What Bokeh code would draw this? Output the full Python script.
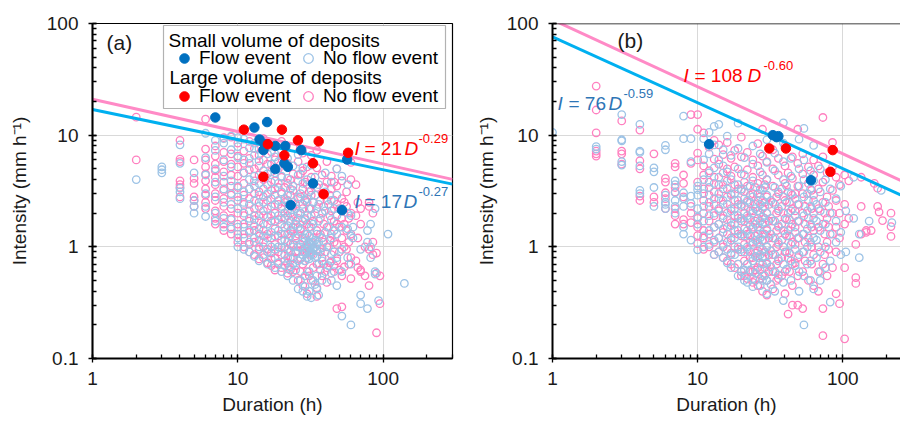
import numpy as np
from bokeh.plotting import figure
from bokeh.layouts import row
from bokeh.models import (Legend, LegendItem, Label, BoxAnnotation, Span,
                          NumeralTickFormatter, LogTicker)
from bokeh.embed import file_html
from bokeh.resources import INLINE

FONT = "Liberation Sans"

# ---------------- data: panel (a) ----------------
# columns: (duration h, [intensities mm/h])
a_small_noflow = [
    (2, [4.0]), (3, [5.2, 4.9, 4.6]), (4, [8.2, 5.6, 3.35, 3.1, 2.7]),
    (5, [4.6, 2.6, 2.3, 2.0]), (6, [10.4, 6.3, 4.4, 3.0, 2.3, 1.87]),
    (7, [9.0, 7.3, 5.0, 3.8, 2.8, 2.0, 1.7]), (8, [9.3, 8.5, 6.0, 4.3, 3.3, 2.5, 1.8, 1.5]),
    (9, [9.8, 7.4, 5.2, 3.9, 3.0, 2.4, 1.75, 1.45]), (10, [9.5, 7.9, 6.3, 3.5, 2.8, 2.2, 1.5, 1.2, 1.0]),
    (11, [9.2, 6.0, 4.6, 3.1, 2.5, 2.0, 1.6, 1.3, 0.95]), (12, [7.7, 5.6, 4.0, 3.3, 2.4, 1.8, 1.4, 1.1, 0.9]),
    (13, [8.5, 6.6, 4.3, 3.5, 2.6, 1.9, 1.55, 1.2, 0.82]), (14, [7.5, 5.9, 3.7, 2.9, 2.3, 1.7, 1.3, 1.0, 0.75]),
    (15, [8.6, 4.8, 3.3, 2.5, 1.9, 1.4, 1.1, 0.85]), (16, [6.8, 4.5, 3.0, 2.2, 1.6, 1.2, 0.9, 0.7]),
    (17, [8.0, 5.5, 3.8, 2.7, 1.9, 1.35, 1.0, 0.78]), (18, [6.4, 4.6, 3.3, 2.4, 1.7, 1.25, 0.95, 0.65]),
    (19, [5.8, 3.7, 2.6, 1.9, 1.4, 1.0, 0.72]), (20, [7.2, 4.3, 3.1, 2.3, 1.8, 1.3, 0.98, 0.6]),
    (21, [2.7, 2.0, 1.5, 1.15, 0.85, 0.68]), (22, [6.2, 4.1, 2.9, 2.1, 1.55, 1.1, 0.8, 0.55]),
    (23, [3.3, 2.4, 1.7, 1.25, 0.9, 0.66]), (24, [5.3, 3.5, 2.5, 1.85, 1.35, 1.0, 0.7, 0.5]),
    (25, [2.2, 1.6, 1.2, 0.88, 0.62]), (26, [6.7, 4.4, 2.8, 2.0, 1.5, 1.0, 0.75, 0.42]),
    (27, [3.0, 2.0, 1.4, 1.0, 0.78, 0.5]), (28, [5.1, 3.7, 2.4, 1.7, 1.1, 0.85, 0.4]),
    (29, [2.6, 1.8, 1.2, 0.9, 0.75, 0.55, 0.44]), (30, [4.0, 2.7, 1.9, 1.3, 1.05, 0.95, 0.8, 0.36]),
    (31, [1.25, 1.1, 1.0, 0.88, 0.78, 0.6, 0.4]), (32, [5.4, 3.2, 2.2, 1.5, 1.05, 0.9, 0.35]),
    (33, [2.5, 1.6, 1.1, 0.95, 0.85, 0.5]), (34, [4.2, 2.9, 2.0, 1.15, 1.0, 0.8, 0.46]),
    (35, [1.3, 1.05, 0.92, 0.82, 0.55, 0.42]), (36, [3.6, 2.4, 1.7, 1.1, 0.7, 0.37]),
    (38, [2.0, 1.2, 0.98, 0.75, 0.5]), (40, [4.6, 3.1, 2.1, 1.35, 0.9, 0.6]),
    (42, [2.4, 1.5, 1.0, 0.68]), (44, [3.8, 2.6, 1.75, 1.2, 0.75, 0.5]),
    (46, [2.2, 1.4, 0.9, 0.6]), (48, [5.0, 2.9, 1.9, 1.3, 0.8, 0.45]),
    (52, [4.3, 2.2, 1.5, 0.95, 0.6, 0.24]), (57, [3.6, 2.0, 1.45, 0.8]),
    (60, [1.9, 1.25, 0.7, 0.2]), (62, [1.5, 1.2]), (70, [0.95, 0.37, 0.31]),
    (78, [1.4, 1.1, 0.28]), (82, [1.6, 1.0, 0.8]), (88, [2.2, 0.6, 0.57]), (93, [0.33]),
    (108, [1.3]), (140, [0.47]),
]
a_large_noflow = [
    (2, [14.5, 6.0]), (4, [9.0, 6.1, 5.8, 3.9, 3.6, 3.4, 2.8]), (5, [6.0, 4.1, 3.7, 2.8, 2.6, 2.3]),
    (6, [13.9, 7.5, 6.0, 5.2, 4.5, 3.9, 3.3, 2.9, 2.5, 2.2]),
    (7, [8.0, 6.5, 5.5, 4.8, 4.2, 3.6, 3.0, 2.6, 2.1, 1.8, 1.6]),
    (8, [9.5, 7.0, 5.8, 4.7, 3.8, 3.2, 2.7, 2.3, 1.9, 1.6, 1.4]),
    (9, [9.6, 6.8, 5.5, 4.4, 3.5, 2.9, 2.2, 1.8, 1.5, 1.3]),
    (10, [8.5, 6.5, 5.2, 4.3, 3.4, 2.6, 2.0, 1.6, 1.3, 1.1]),
    (11, [7.2, 5.6, 4.6, 3.7, 2.9, 2.4, 1.9, 1.5, 1.2, 1.0]),
    (12, [8.8, 6.2, 4.9, 3.3, 2.7, 2.1, 1.7, 1.35, 1.05, 0.9]),
    (13, [7.6, 5.0, 3.9, 3.0, 2.2, 1.75, 1.4, 1.1, 0.85]),
    (14, [6.6, 5.3, 4.4, 3.1, 2.5, 1.9, 1.45, 1.15, 0.95, 0.78]),
    (15, [9.3, 6.0, 4.0, 2.8, 2.1, 1.6, 1.25, 1.0, 0.8]),
    (16, [5.5, 3.6, 2.6, 1.85, 1.3, 0.95, 0.72]), (17, [7.1, 4.7, 3.2, 2.3, 1.7, 1.2, 0.88, 0.68]),
    (18, [6.0, 3.9, 2.9, 2.0, 1.45, 1.05, 0.8, 0.62]), (19, [5.0, 3.4, 2.4, 1.75, 1.25, 0.9, 0.7]),
    (20, [8.8, 6.5, 4.2, 3.0, 2.2, 1.6, 1.15, 0.85, 0.65]), (21, [3.4, 2.5, 1.8, 1.3, 1.0, 0.75]),
    (22, [5.6, 3.7, 2.6, 1.9, 1.3, 0.95, 0.72, 0.58]), (23, [4.0, 2.9, 2.0, 1.4, 1.05, 0.8, 0.62]),
    (24, [7.8, 4.5, 3.2, 2.3, 1.5, 1.05, 0.8, 0.6]), (25, [2.4, 1.7, 1.25, 0.9, 0.68]),
    (26, [5.8, 3.9, 2.7, 1.8, 1.3, 0.92, 0.5]), (27, [4.5, 2.8, 2.0, 1.45, 1.05, 0.8, 0.6]),
    (28, [6.9, 4.8, 3.3, 2.2, 1.2, 0.95, 0.7, 0.45]), (29, [3.8, 2.6, 1.75, 1.3, 0.98, 0.75]),
    (30, [5.2, 3.6, 2.5, 1.6, 1.0, 0.9, 0.6, 0.38]), (31, [3.1, 2.2, 1.5, 1.1, 0.92, 0.55]),
    (32, [6.6, 4.2, 2.9, 1.9, 1.1, 0.85, 0.5]), (33, [3.7, 2.5, 1.7, 1.2, 0.97, 0.65]),
    (35, [7.3, 5.1, 3.4, 2.2, 1.4, 0.95, 0.7, 0.43, 0.36]), (37, [2.6, 1.8, 1.3, 0.9, 0.62]),
    (38, [4.4, 3.0, 2.0, 1.2, 0.8, 0.55]), (39, [3.4, 2.3, 1.6, 1.1, 0.7]),
    (41, [5.8, 3.8, 2.6, 1.5, 1.0, 0.65, 0.48]), (43, [2.9, 1.9, 1.15, 0.72]),
    (44, [4.3, 3.3, 2.1, 1.3, 0.85, 0.58]), (46, [3.8, 2.6, 1.7, 1.1, 0.68]),
    (48, [5.0, 3.5, 2.4, 1.6, 1.05, 0.75, 0.28]), (50, [2.2, 1.5, 0.9, 0.62]),
    (52, [3.9, 2.7, 1.8, 1.2, 0.55, 0.29]), (54, [2.5, 1.6, 1.0, 0.66]), (56, [3.1, 2.3, 1.4, 0.95]),
    (58, [1.8, 1.1, 0.7]), (60, [5.7, 4.0, 2.0, 1.3, 0.8, 0.52]), (65, [3.6, 1.9, 0.75]),
    (67, [2.5, 1.2, 0.65]), (70, [2.2, 1.6, 0.62, 0.6]), (75, [1.0, 0.55]), (80, [2.5, 2.3, 0.95, 0.45]),
    (85, [2.0, 1.1, 0.85]), (90, [0.88, 0.58, 0.17]), (95, [0.55, 0.31]),
]
a_small_flow_d = [7.0, 13.0, 15.9, 14.1, 15.3, 15.0, 18.1, 21.2, 27.3, 20.9, 22.1, 18.1, 32.9, 56.5, 23.1, 52.1]
a_small_flow_i = [14.4, 11.7, 13.1, 9.15, 8.3, 7.35, 8.0, 8.0, 7.35, 5.6, 5.2, 4.97, 3.7, 6.05, 2.36, 2.13]
a_large_flow_d = [11.0, 20.1, 16.1, 25.9, 36.0, 20.9, 32.9, 15.0, 38.9, 57.4]
a_large_flow_i = [11.2, 11.2, 8.3, 9.0, 8.8, 6.6, 5.6, 4.24, 2.96, 6.95]
a_small_fit = (17, -0.27)
a_large_fit = (21, -0.29)

# ---------------- data: panel (b) ----------------
b_small_noflow = [
    (1, [10.6]), (2, [7.9, 7.5]), (3, [15.3, 9.1, 8.9, 5.8, 5.4]), (4, [12.5, 7.2, 7.0, 5.3, 3.2, 3.0]),
    (5, [5.1, 4.7, 3.4, 2.3]), (6, [8.1, 7.4, 2.9, 2.5, 2.4, 2.2]), (7, [3.9, 3.6, 3.05, 2.6, 2.3, 2.0]),
    (8, [14.8, 9.3, 3.05, 2.7, 2.3, 1.5, 1.3]), (9, [9.3, 5.8, 2.85, 2.45, 1.15]),
    (10, [3.5, 3.25, 2.9, 2.2, 1.85, 1.6, 0.94]), (11, [9.3, 6.0, 4.0, 3.0, 2.3, 1.7, 1.25, 1.0]),
    (12, [10.6, 6.8, 4.6, 3.4, 2.5, 1.9, 1.4, 1.05]), (13, [12.0, 8.2, 5.1, 3.7, 2.7, 2.0, 1.5, 1.15, 0.85]),
    (14, [12.5, 6.0, 4.2, 3.0, 2.2, 1.6, 1.2, 0.9]), (15, [7.4, 5.3, 3.6, 2.6, 1.9, 1.45, 1.05, 0.8]),
    (16, [9.8, 4.7, 3.3, 2.4, 1.75, 1.3, 0.95, 0.72]), (17, [6.6, 4.0, 2.9, 2.1, 1.55, 1.15, 0.85, 0.65]),
    (18, [3.0, 2.2, 1.6, 1.2, 0.85]),
    (19, [12.8, 7.6, 5.0, 3.6, 2.6, 1.9, 1.4, 1.0, 0.7, 0.55]),
    (20, [3.3, 2.4, 1.8, 1.3, 0.95, 0.6]),
    (21, [6.3, 4.4, 3.1, 2.3, 1.7, 1.25, 0.9, 0.62, 0.5]),
    (22, [2.6, 1.9, 1.4, 1.0, 0.7, 0.48]), (23, [3.5, 2.5, 1.75, 1.25, 0.9, 0.62]),
    (24, [8.0, 5.5, 3.9, 2.8, 2.0, 1.45, 1.05, 0.75, 0.52, 0.44]),
    (25, [2.2, 1.6, 1.15, 0.82, 0.58]), (26, [3.0, 2.1, 1.5, 1.1, 0.8]),
    (27, [6.8, 4.7, 3.3, 2.4, 1.7, 1.2, 0.85, 0.62, 0.45]),
    (28, [2.6, 1.85, 1.3, 0.95, 0.7, 0.5]), (29, [3.4, 2.3, 1.65, 1.15, 0.82, 0.55]),
    (30, [9.1, 5.7, 4.0, 2.9, 2.0, 1.45, 1.0, 0.72, 0.5, 0.38]),
    (32, [2.6, 1.8, 1.3, 0.92, 0.66, 0.46]),
    (34, [6.9, 4.8, 3.4, 2.4, 1.7, 1.2, 0.85, 0.6, 0.4]), (36, [3.1, 2.2, 1.55, 1.1, 0.78, 0.56]),
    (39, [12.9, 8.5, 5.8, 4.0, 2.8, 2.0, 1.4, 1.0, 0.7, 0.48, 0.33]),
    (41, [3.5, 2.5, 1.75, 1.25, 0.9, 0.63]),
    (44, [6.2, 4.3, 3.0, 2.1, 1.5, 1.05, 0.75, 0.5]), (47, [2.7, 1.9, 1.35, 0.95, 0.68]),
    (50, [9.2, 5.0, 3.5, 2.4, 1.7, 1.2, 0.85, 0.6, 0.4]),
    (54, [11.5, 6.0, 4.0, 2.8, 1.9, 1.3, 0.9, 0.55, 0.2]), (57, [3.0, 2.1, 1.45, 1.0, 0.7]),
    (60, [4.8, 3.3, 2.3, 1.6, 1.1, 0.75, 0.5]), (63, [8.1, 3.9, 2.6, 1.8, 1.2, 0.42]),
    (66, [2.4, 1.7, 1.15, 0.8]),
    (70, [5.0, 3.1, 2.1, 1.4, 0.9, 0.6, 0.5]), (76, [4.0, 2.5, 1.6, 1.0, 0.65]),
    (82, [3.3, 2.0, 1.3, 0.75, 0.32]), (90, [2.7, 1.7, 1.1]), (97, [3.5, 1.35, 0.85]),
    (105, [2.1, 0.9]), (119, [4.2, 1.8]), (130, [1.3, 0.8]), (152, [1.7]), (184, [3.2]), (218, [1.65]),
]
b_large_noflow = [
    (2, [27.5, 16.8, 10.5, 7.2, 6.8, 6.5]), (3, [13.4, 7.2, 6.8, 5.5]), (4, [11.1, 5.9, 5.0, 2.85, 2.6]),
    (5, [6.8, 2.8, 2.5]), (6, [4.1, 3.8, 3.05, 2.7, 2.2]), (7, [5.6, 5.2, 3.4, 3.1, 2.2, 1.9, 1.6]),
    (8, [4.4, 3.7, 2.8, 1.75, 1.6]), (9, [15.3, 5.6, 2.3, 2.0, 1.65]),
    (10, [15.3, 11.3, 6.9, 6.0, 3.8, 1.8, 1.5, 1.26, 1.07]),
    (11, [10.5, 5.3, 4.4, 3.3, 2.6, 2.0, 1.4, 1.2, 0.95]), (12, [7.8, 4.8, 3.8, 2.9, 2.3, 1.7, 1.3, 1.0]),
    (13, [9.0, 6.1, 4.2, 3.1, 2.4, 1.9, 1.5, 1.1, 0.85]), (14, [8.2, 5.5, 3.6, 2.7, 2.1, 1.6, 1.2, 0.9]),
    (15, [6.7, 4.6, 3.3, 2.4, 1.8, 1.35, 1.0, 0.8]), (16, [8.6, 5.0, 3.9, 2.8, 2.0, 1.5, 1.1, 0.75]),
    (17, [6.2, 4.3, 3.0, 2.2, 1.65, 1.2, 0.88, 0.7]), (18, [7.3, 5.2, 3.6, 2.6, 1.9, 1.4, 1.0, 0.65]),
    (19, [3.3, 2.4, 1.8, 1.3, 0.95, 0.7]),
    (20, [9.6, 6.4, 4.5, 3.2, 2.3, 1.7, 1.25, 0.9, 0.6, 0.55]),
    (21, [3.8, 2.7, 2.0, 1.45, 1.05, 0.75, 0.55]),
    (22, [7.0, 4.9, 3.5, 2.5, 1.8, 1.3, 0.95, 0.7, 0.52]), (23, [2.9, 2.1, 1.55, 1.1, 0.8, 0.6]),
    (24, [6.0, 4.2, 3.0, 2.1, 1.5, 1.1, 0.8, 0.6, 0.48]), (25, [3.4, 2.4, 1.7, 1.25, 0.88, 0.62, 0.5]),
    (26, [8.4, 5.3, 3.7, 2.6, 1.8, 1.3, 0.92, 0.65, 0.45]), (27, [2.8, 2.0, 1.4, 1.0, 0.72, 0.52]),
    (28, [11.3, 6.5, 4.4, 3.2, 2.2, 1.6, 1.15, 0.8, 0.55, 0.4]), (29, [3.6, 2.5, 1.8, 1.3, 0.9, 0.65]),
    (30, [5.8, 4.0, 2.8, 2.0, 1.4, 1.0, 0.7, 0.5, 0.37]), (31, [2.4, 1.7, 1.2, 0.85, 0.6]),
    (33, [7.4, 5.0, 3.5, 2.5, 1.7, 1.2, 0.85, 0.6, 0.42]), (35, [2.8, 2.0, 1.4, 1.0, 0.7, 0.5]),
    (36, [6.2, 4.4, 3.0, 2.1, 1.5, 1.05, 0.75, 0.52]), (38, [3.3, 2.3, 1.6, 1.15, 0.8, 0.55]),
    (40, [8.0, 5.3, 3.7, 2.6, 1.8, 1.3, 0.9, 0.6, 0.38]), (42, [4.6, 3.1, 2.0, 1.4, 0.8, 0.25]),
    (43, [2.5, 1.75, 1.25, 0.88, 0.6]),
    (45, [6.4, 4.1, 2.9, 2.2, 1.6, 1.1, 0.7, 0.45, 0.3]), (47, [3.0, 2.1, 1.5, 1.05, 0.72]),
    (49, [11.3, 5.6, 3.5, 2.4, 1.7, 1.2, 0.8, 0.55, 0.3]),
    (53, [6.8, 4.5, 3.0, 2.0, 1.3, 0.9, 0.6, 0.28]), (55, [2.3, 1.6, 1.1, 0.75]),
    (58, [5.2, 3.7, 2.6, 1.8, 1.2, 0.5]), (61, [3.2, 2.2, 1.5, 1.0, 0.7]),
    (63, [6.0, 4.4, 2.9, 2.0, 1.4, 0.85, 0.45]), (68, [5.3, 3.3, 2.2, 1.5, 1.0, 0.6, 0.4]),
    (73, [14.4, 6.4, 3.8, 2.5, 1.6, 0.7, 0.28, 0.16]), (75, [2.0, 1.3, 0.85]),
    (78, [4.6, 2.8, 1.8, 1.1, 0.55]), (80, [2.3, 1.5, 0.95]),
    (85, [8.6, 5.2, 3.2, 2.0, 1.3, 0.65]), (90, [4.2, 2.6, 1.5, 0.9, 0.38]), (95, [3.6, 2.0, 1.2, 0.31]),
    (103, [4.4, 2.4, 1.6, 0.65, 0.15]), (110, [3.9, 1.8]), (123, [1.05, 0.53, 0.47]),
    (134, [4.2, 2.3, 1.3]), (145, [1.4, 1.35]), (157, [1.4]), (165, [3.7]), (174, [3.35, 2.3]),
    (178, [2.05]), (188, [1.72]), (215, [2.0, 1.52, 1.24]),
]
b_small_flow_d = [12.0, 33.0, 36.0, 35.0, 60.4]
b_small_flow_i = [8.3, 10.0, 9.8, 9.6, 3.95]
b_large_flow_d = [31.2, 40.6, 85.3, 82.2]
b_large_flow_i = [7.6, 7.6, 7.35, 4.7]
b_small_fit = (76, -0.59)
b_large_fit = (108, -0.60)

# ---------------- styling ----------------
PINK_PT = "#FF80C0"
PINK_LN = "#FF8AC6"
BLUE_PT = "#9DC3E6"
BLUE_LN = "#00B0F0"
BLUE_FILL = "#0070C0"
RED_FILL = "#FF0000"
BLUE_TXT = "#2E75B6"
TXT = "#1a1a1a"
TOP, FRAME_H, BOTTOM = 23, 335, 66


def flat(cols):
    xs, ys = [], []
    for d, vals in cols:
        for v in vals:
            xs.append(d)
            ys.append(v)
    return xs, ys


def make_panel(width, left, right, xmax, ylab_standoff):
    p = figure(width=width, height=TOP + FRAME_H + BOTTOM, x_axis_type="log", y_axis_type="log",
               x_range=(1, xmax), y_range=(0.1, 100),
               min_border_left=left, min_border_right=right, min_border_top=TOP,
               min_border_bottom=BOTTOM, output_backend="svg", toolbar_location=None,
               background_fill_color="white", border_fill_color="white")
    for ax in (p.xaxis[0], p.yaxis[0]):
        ax.ticker = LogTicker(num_minor_ticks=10)
        ax.formatter = NumeralTickFormatter(format="0.[0]")
        ax.axis_line_width = 2
        ax.axis_line_color = "black"
        ax.major_tick_line_color = "black"
        ax.minor_tick_line_color = "black"
        ax.major_tick_line_width = 1.3
        ax.minor_tick_line_width = 1.3
        ax.major_tick_in = 4
        ax.major_tick_out = 4
        ax.minor_tick_in = 4
        ax.minor_tick_out = 0
        ax.major_label_text_font = FONT
        ax.major_label_text_font_size = "19px"
        ax.major_label_text_color = TXT
        ax.axis_label_text_font = FONT
        ax.axis_label_text_font_size = "19px"
        ax.axis_label_text_font_style = "normal"
        ax.axis_label_text_color = TXT
    p.xaxis.axis_label = "Duration (h)"
    p.yaxis.axis_label = "Intensity (mm h\u207b\u00b9)"
    p.xaxis.major_label_standoff = 9
    p.xaxis.axis_label_standoff = 6
    p.yaxis.major_label_standoff = 10
    p.yaxis.axis_label_standoff = ylab_standoff
    p.grid.grid_line_color = "#D9D9D9"
    p.grid.grid_line_width = 1
    p.grid.minor_grid_line_color = None
    frame_w = width - left - right
    dx = frame_w / np.log10(xmax)
    dy = FRAME_H / 3.0
    X = lambda px: 10 ** ((px - left) / dx)
    Y = lambda py: 10 ** (2 - (py - TOP) / dy)
    return p, X, Y


def add_points(p, small_cols, large_cols, sfd, sfi, lfd, lfi, small_fit, large_fit, xmax):
    lx, ly = flat(large_cols)
    sx, sy = flat(small_cols)
    r_ln = p.scatter(lx, ly, marker="circle", size=7.5, fill_color=None,
                     line_color=PINK_PT, line_width=1.3)
    r_sn = p.scatter(sx, sy, marker="circle", size=7.5, fill_color=None,
                     line_color=BLUE_PT, line_width=1.3)
    dd = np.array([1.0, xmax])
    p.line(dd, large_fit[0] * dd ** large_fit[1], line_color=PINK_LN, line_width=3)
    p.line(dd, small_fit[0] * dd ** small_fit[1], line_color=BLUE_LN, line_width=3)
    r_sf = p.scatter(sfd, sfi, marker="circle", size=9.5, fill_color=BLUE_FILL,
                     line_color=BLUE_FILL, line_width=1)
    r_lf = p.scatter(lfd, lfi, marker="circle", size=9.5, fill_color=RED_FILL,
                     line_color=RED_FILL, line_width=1)
    return r_sf, r_sn, r_lf, r_ln


def add_eq(p, X, Y, xs, base, exp_base, coef, expo, color):
    parts = [("I", "italic", "19px", base), ("= %s" % coef, "normal", "19px", base),
             ("D", "italic", "19px", base), (expo, "normal", "13px", exp_base)]
    for (txt, style, size, b), xp in zip(parts, xs):
        p.add_layout(Label(x=X(xp), y=Y(b), text=txt, text_font=FONT, text_font_style=style,
                           text_font_size=size, text_color=color, text_align="left",
                           text_baseline="alphabetic"))


# ---------------- panel (a) ----------------
pa, Xa, Ya = make_panel(455, 92, 3, 300, 14)
pa.outline_line_color = "black"
pa.outline_line_width = 1.2
sf, sn, lf, ln = add_points(pa, a_small_noflow, a_large_noflow, a_small_flow_d, a_small_flow_i,
                            a_large_flow_d, a_large_flow_i, a_small_fit, a_large_fit, 300)
pa.add_layout(Label(x=Xa(106), y=Ya(42), text="(a)", text_font=FONT, text_font_size="21px",
                    text_color=TXT, text_baseline="middle"))
add_eq(pa, Xa, Ya, [354, 364, 404, 418], 148, 138, "21", "-0.29", RED_FILL)
add_eq(pa, Xa, Ya, [354, 364, 403, 418], 201, 191, "17", "-0.27", BLUE_TXT)

box = BoxAnnotation(left=Xa(163), right=Xa(445), top=Ya(25), bottom=Ya(108),
                    fill_color="white", fill_alpha=1.0, line_color="black", line_width=1.2)
pa.add_layout(box)
for txt, xp, yp in [("Small volume of deposits", 168, 40), ("Large volume of deposits", 169, 77)]:
    pa.add_layout(Label(x=Xa(xp), y=Ya(yp), text=txt, text_font=FONT, text_font_size="19px",
                        text_color="black", text_baseline="middle"))
legend = Legend(items=[LegendItem(label="Flow event", renderers=[sf]),
                       LegendItem(label="Flow event", renderers=[lf]),
                       LegendItem(label="No flow event", renderers=[sn]),
                       LegendItem(label="No flow event", renderers=[ln])],
                orientation="vertical", ncols=2, location=(79, 245),
                glyph_width=26, glyph_height=24, label_standoff=2, label_height=34,
                spacing=4, padding=0, margin=0, border_line_color=None,
                background_fill_alpha=0, label_text_font=FONT, label_text_font_size="19px",
                label_text_color="black")
pa.add_layout(legend, "center")

# ---------------- panel (b) ----------------
pb, Xb, Yb = make_panel(445, 97, 0, 250, 7)
pb.outline_line_color = None
pb.add_layout(Span(location=100, dimension="width", line_color="black", line_width=1.3))
add_points(pb, b_small_noflow, b_large_noflow, b_small_flow_d, b_small_flow_i,
           b_large_flow_d, b_large_flow_i, b_small_fit, b_large_fit, 250)
OFF = 455
pb.add_layout(Label(x=Xb(617 - OFF), y=Yb(40), text="(b)", text_font=FONT, text_font_size="21px",
                    text_color=TXT, text_baseline="middle"))
add_eq(pb, Xb, Yb, [683 - OFF, 694 - OFF, 747 - OFF, 763 - OFF], 75, 65, "108", "-0.60", RED_FILL)
add_eq(pb, Xb, Yb, [557 - OFF, 568 - OFF, 608 - OFF, 623 - OFF], 103, 93, "76", "-0.59", BLUE_TXT)

layout = row(pa, pb)
open("out.html", "w").write(file_html(layout, INLINE))
